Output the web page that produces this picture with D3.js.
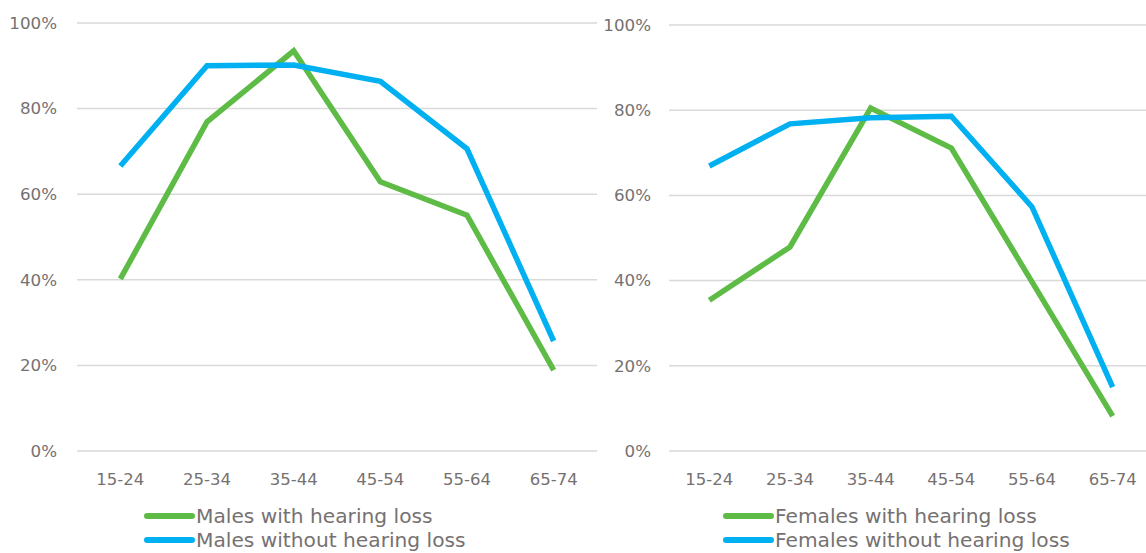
<!DOCTYPE html>
<html><head><meta charset="utf-8">
<script src="https://cdn.jsdelivr.net/npm/d3@7"></script>
<style>body{margin:0;background:#fff;}svg{display:block;}</style>
</head><body>
<svg id="c" width="1146" height="553"></svg>
<script>
const categories = ["15-24","25-34","35-44","45-54","55-64","65-74"];
const yTicks = [0, 20, 40, 60, 80, 100];
const malesWith = [40.2, 76.9, 93.5, 62.9, 55.1, 18.9];
const malesWithout = [66.6, 90.0, 90.2, 86.4, 70.6, 25.7];
const femalesWith = [35.4, 47.9, 80.5, 71.1, 39.7, 8.2];
const femalesWithout = [66.9, 76.8, 78.2, 78.6, 57.3, 15.0];
const seriesNames = {
  left: ["Males with hearing loss", "Males without hearing loss"],
  right: ["Females with hearing loss", "Females without hearing loss"]
};
const colors = ["#5DBB46", "#00B0F0"];
const textColor = "#767171";
const font = "DejaVu Sans";

const svg = d3.select("#c");

function panel(cfg) {
  const g = svg.append("g");
  const x = d3.scaleBand().domain(categories).range([cfg.x0, cfg.x1]);
  const y = d3.scaleLinear().domain([0, 100]).range([cfg.y0, cfg.y100]);
  g.selectAll("line.grid").data(yTicks).join("line")
    .attr("x1", cfg.x0).attr("x2", cfg.x1)
    .attr("y1", d => y(d)).attr("y2", d => y(d))
    .attr("stroke", "#d9d9d9").attr("stroke-width", 1.5);
  const yAxis = d3.axisLeft(y).tickValues(yTicks).tickFormat(d => d + "%").tickSize(0).tickPadding(0);
  const ya = g.append("g").attr("transform", `translate(${cfg.labelX},0)`).call(yAxis);
  ya.select(".domain").remove();
  ya.selectAll("text").attr("fill", textColor).style("font-family", font).style("font-size", "16.7px");
  const xAxis = d3.axisBottom(x).tickSize(0).tickPadding(0);
  const xa = g.append("g").attr("transform", `translate(0,${cfg.y0 + 22})`).call(xAxis);
  xa.select(".domain").remove();
  xa.selectAll("text").attr("fill", textColor).style("font-family", font).style("font-size", "16.5px");
  const line = d3.line().x((d, i) => x(categories[i]) + x.bandwidth() / 2).y(d => y(d));
  cfg.data.forEach((s, k) => {
    g.append("path").attr("d", line(s)).attr("fill", "none")
      .attr("stroke", colors[k]).attr("stroke-width", 5.5).attr("stroke-linejoin", "miter");
  });
  cfg.names.forEach((n, k) => {
    const ly = cfg.legY[k];
    g.append("line").attr("x1", cfg.legX).attr("x2", cfg.legX + 45).attr("y1", ly).attr("y2", ly)
      .attr("stroke", colors[k]).attr("stroke-width", 6).attr("stroke-linecap", "round");
    g.append("text").attr("x", cfg.legX + 49).attr("y", ly).attr("dy", "0.35em")
      .attr("fill", textColor).style("font-family", font).style("font-size", "20.2px").text(n);
  });
}

panel({x0: 77, x1: 597, y0: 451, y100: 23, labelX: 57, data: [malesWith, malesWithout],
  names: seriesNames.left, legX: 147, legY: [516, 540]});
panel({x0: 669, x1: 1153, y0: 451, y100: 25, labelX: 651, data: [femalesWith, femalesWithout],
  names: seriesNames.right, legX: 726, legY: [516, 540]});
</script>
</body></html>
